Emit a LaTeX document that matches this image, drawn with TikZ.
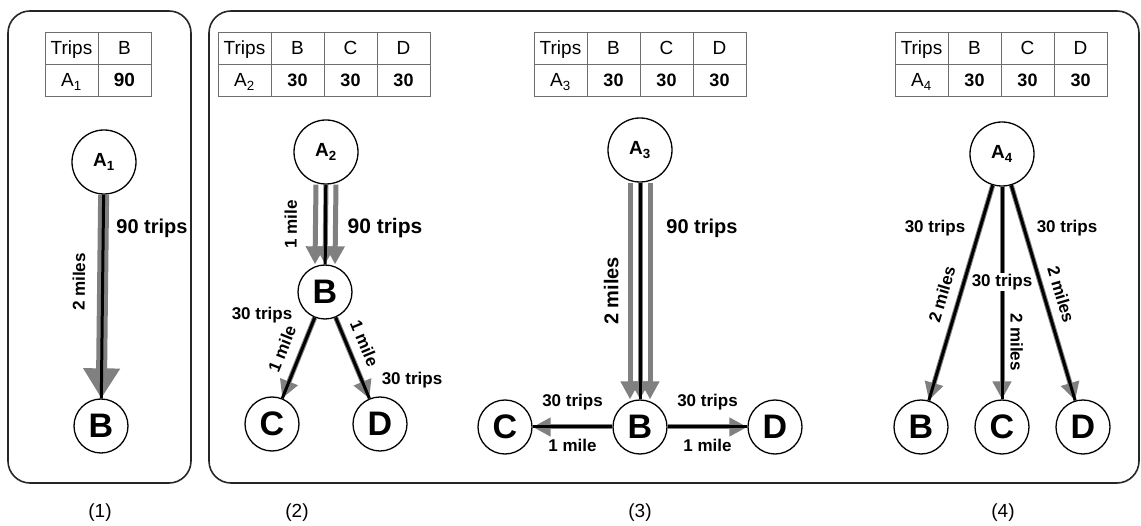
\documentclass[tikz,border=0pt]{standalone}
\usepackage{fontspec}
\setmainfont{Liberation Sans}
\usetikzlibrary{arrows.meta}
\definecolor{flowgray}{RGB}{128,128,128}
\definecolor{tabgray}{RGB}{110,110,110}
\newcommand{\fs}[1]{\fontsize{#1}{#1}\selectfont}

\begin{document}
\begin{tikzpicture}[x=1pt,y=-1pt,
    panel/.style={draw=black!85,line width=1.6pt,rounded corners=22pt},
    origin/.style={circle,draw,line width=1.3pt,fill=white,minimum size=64pt,inner sep=0pt,font=\bfseries\fs{19}},
    place/.style={circle,draw,line width=1.3pt,fill=white,minimum size=54pt,inner sep=0pt,font=\bfseries\fs{34}},
    road/.style={line width=3pt},
    flow/.style={draw=flowgray,line width=5pt,-{Triangle[length=18pt,width=18pt]}},
    bigflow/.style={draw=flowgray,line width=11pt,-{Triangle[length=30pt,width=35pt]}},
    lbl/.style={font=\bfseries\fs{17},inner sep=1pt},
    cell/.style={font=\fs{19},inner sep=0pt,anchor=base},
    tab/.style={draw=tabgray,line width=0.8pt},
    caption/.style={font=\fs{19}}]
    \useasboundingbox (0,0) rectangle (1141,526);
    \draw[panel] (8,11) rectangle (191,483);
    \draw[panel] (209,11) rectangle (1139,483);

    % trip tables
    \draw[tab] (45,32) rectangle (151,96) (45,64) -- (151,64) (98,32) -- (98,96);
    \node[cell] (h1) at (71.5,55) {Trips};
    \node[cell] (h1B) at (124.5,55) {B};
    \node[cell] (r1) at (71.5,87) {A\textsubscript{1}};
    \node[cell,font=\bfseries\fs{19}] (v1B) at (124.5,87) {90};
    \foreach \x/\i in {218/2,534/3,895/4}{
        \draw[tab] (\x,32) rectangle ++(212,64) (\x,64) -- ++(212,0);
        \foreach \c in {1,2,3} \draw[tab] (\x+53*\c,32) -- ++(0,64);
        \node[cell] (h\i) at (\x+26.5,55) {Trips};
        \node[cell] (r\i) at (\x+26.5,87) {A\textsubscript{\i}};
        \foreach \d [count=\c] in {B,C,D}{
            \node[cell] (h\i\d) at (\x+26.5+53*\c,55) {\d};
            \node[cell,font=\bfseries\fs{18}] (v\i\d) at (\x+26.5+53*\c,87) {30};
        }
    }

    % (1)
    \node[origin] (A1) at (104,162) {A\textsubscript{1}};
    \node[place] (B1) at (101,426) {B};
    \draw[bigflow] (A1) -- (B1);
    \draw[road] (B1) -- node[lbl,sloped,above=15pt,pos=0.57]{2 miles} (A1);
    \node[lbl,font=\bfseries\fs{20}] (n1) at (152,228) {90 trips};

    % (2)
    \node[origin] (A2) at (326,152) {A\textsubscript{2}};
    \node[place] (B2) at (325,292) {B};
    \node[place] (C2) at (272,424) {C};
    \node[place] (D2) at (380,424) {D};
    \foreach \s in {-10,0,10}
        \draw[flow] ([xshift=\s]A2.south) -- ([xshift=\s]B2.north);
    \draw[flow] (B2) -- (C2);
    \draw[flow] (B2) -- (D2);
    \draw[road] (B2) -- node[lbl,sloped,above=26pt]{1 mile} (A2);
    \draw[road] (B2) -- node[lbl,sloped,above=10pt,pos=0.47]{1 mile} (C2);
    \draw[road] (B2) -- node[lbl,sloped,above=8pt,pos=0.4]{1 mile} (D2);
    \node[lbl,font=\bfseries\fs{21}] (n2) at (385,228) {90 trips};
    \node[lbl] (m2c) at (262,315) {30 trips};
    \node[lbl] (m2d) at (412,380) {30 trips};

    % (3)
    \node[origin] (A3) at (640,150) {A\textsubscript{3}};
    \node[place] (B3) at (640,427) {B};
    \node[place] (C3) at (505,427) {C};
    \node[place] (D3) at (775,427) {D};
    \foreach \s in {-10,0,10}
        \draw[flow] ([xshift=\s]A3.south) -- ([xshift=\s]B3.north);
    \draw[flow] (B3) -- (C3);
    \draw[flow] (B3) -- (D3);
    \draw[road] (B3) -- node[lbl,sloped,above=19pt,font=\bfseries\fs{20}]{2 miles} (A3);
    \draw[road] (B3) -- node[lbl,above=14pt]{30 trips} node[lbl,below=10pt]{1 mile} (C3);
    \draw[road] (B3) -- node[lbl,above=14pt]{30 trips} node[lbl,below=10pt]{1 mile} (D3);
    \node[lbl,font=\bfseries\fs{20}] (n3) at (702,228) {90 trips};

    % (4)
    \node[origin] (A4) at (1002,154) {A\textsubscript{4}};
    \node[place] (B4) at (921,427) {B};
    \node[place] (C4) at (1002,427) {C};
    \node[place] (D4) at (1083,427) {D};
    \foreach \t in {B4,C4,D4} \draw[flow] (A4) -- (\t);
    \draw[road] (A4) -- node[lbl,sloped,above=9pt,pos=0.53]{2 miles} (B4);
    \draw[road] (A4) -- node[lbl,fill=white,pos=0.45]{30 trips} node[lbl,sloped,above=6pt,pos=0.73]{2 miles} (C4);
    \draw[road] (A4) -- node[lbl,sloped,above=8pt,pos=0.53]{2 miles} (D4);
    \node[lbl] (m4b) at (935,228) {30 trips};
    \node[lbl] (m4d) at (1067,228) {30 trips};

    \node[caption] (c1) at (100,513) {(1)};
    \node[caption] (c2) at (297,513) {(2)};
    \node[caption] (c3) at (640,513) {(3)};
    \node[caption] (c4) at (1003,513) {(4)};
\end{tikzpicture}
\end{document}
